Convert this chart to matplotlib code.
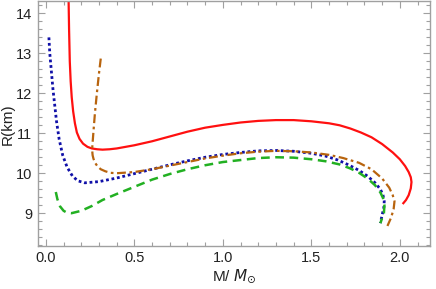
import matplotlib.pyplot as plt
from matplotlib.ticker import MultipleLocator

plt.rcParams['font.family'] = ['Liberation Sans', 'DejaVu Sans']

# mass-radius curves (M in solar masses, R in km)
red_m = [0.128, 0.131, 0.135, 0.140, 0.146, 0.154, 0.164, 0.175, 0.190, 0.21, 0.235,
         0.26, 0.29, 0.32, 0.36, 0.40, 0.45, 0.50, 0.60, 0.70, 0.80, 0.90, 1.00, 1.10,
         1.20, 1.30, 1.40, 1.50, 1.60, 1.66, 1.72, 1.78, 1.84, 1.90, 1.96, 2.00, 2.03,
         2.05, 2.062, 2.066, 2.062, 2.05, 2.035, 2.02]
red_r = [14.4, 13.6, 12.8, 12.3, 11.9, 11.55, 11.25, 11.02, 10.86, 10.74, 10.66,
         10.62, 10.60, 10.59, 10.60, 10.62, 10.66, 10.70, 10.80, 10.92, 11.04, 11.14,
         11.21, 11.27, 11.31, 11.33, 11.33, 11.30, 11.25, 11.20, 11.12, 11.02, 10.90,
         10.73, 10.52, 10.35, 10.18, 10.03, 9.90, 9.78, 9.62, 9.45, 9.33, 9.25]

blue_m = [0.017, 0.022, 0.030, 0.040, 0.050, 0.060, 0.075, 0.095, 0.12, 0.15, 0.18,
          0.22, 0.30, 0.40, 0.50, 0.60, 0.70, 0.80, 0.90, 1.00, 1.10, 1.20, 1.30, 1.40,
          1.50, 1.58, 1.65, 1.71, 1.77, 1.82, 1.86, 1.89, 1.905, 1.912, 1.91, 1.90,
          1.89]
blue_r = [13.4, 13.0, 12.6, 12.1, 11.7, 11.3, 10.85, 10.45, 10.15, 9.93, 9.81, 9.76,
          9.79, 9.88, 9.99, 10.10, 10.21, 10.31, 10.40, 10.47, 10.52, 10.56, 10.57,
          10.55, 10.50, 10.43, 10.33, 10.21, 10.07, 9.92, 9.76, 9.60, 9.45, 9.30,
          9.15, 8.95, 8.75]

brown_m = [0.31, 0.300, 0.288, 0.277, 0.268, 0.262, 0.262, 0.264, 0.269, 0.278, 0.292,
           0.31, 0.335, 0.365, 0.40, 0.50, 0.60, 0.70, 0.80, 0.90, 1.00, 1.10, 1.20,
           1.30, 1.40, 1.50, 1.60, 1.68, 1.77, 1.84, 1.90, 1.94, 1.96, 1.97, 1.965,
           1.95, 1.93]
brown_r = [12.87, 12.5, 12.0, 11.5, 11.0, 10.65, 10.55, 10.45, 10.36, 10.26, 10.17,
           10.10, 10.05, 10.01, 10.0, 10.03, 10.10, 10.19, 10.28, 10.37, 10.44, 10.50,
           10.54, 10.56, 10.55, 10.52, 10.46, 10.38, 10.26, 10.10, 9.87, 9.64, 9.45,
           9.30, 9.10, 8.88, 8.68]

green_m = [0.056, 0.065, 0.080, 0.100, 0.120, 0.145, 0.20, 0.26, 0.32, 0.40, 0.50,
           0.60, 0.70, 0.80, 0.90, 1.00, 1.10, 1.20, 1.30, 1.40, 1.50, 1.58, 1.66,
           1.72, 1.77, 1.82, 1.86, 1.89, 1.905, 1.913, 1.91, 1.89]
green_r = [9.53, 9.35, 9.17, 9.06, 9.01, 9.0, 9.06, 9.18, 9.33, 9.48, 9.66, 9.84,
           9.98, 10.10, 10.20, 10.28, 10.33, 10.38, 10.40, 10.39, 10.35, 10.30, 10.22,
           10.12, 10.01, 9.86, 9.70, 9.52, 9.38, 9.20, 9.00, 8.75]

fig = plt.figure(figsize=(4.36, 2.89), dpi=100)
ax = fig.add_axes([0.087, 0.149, 0.899, 0.846])

ax.plot(red_m, red_r, color='#ff1010', lw=1.6, solid_joinstyle='round')
ax.plot(blue_m, blue_r, color='#1010a8', lw=2.0, linestyle=(0, (1.0, 1.0)))
ax.plot(brown_m, brown_r, color='#b8640e', lw=1.6, linestyle=(0, (4.0, 1.6, 1.2, 1.6)))
ax.plot(green_m, green_r, color='#22b022', lw=1.8, linestyle=(0, (3.5, 2.2)))

ax.set_xlim(-0.045, 2.17)
ax.set_ylim(8.18, 14.3)

ax.xaxis.set_major_locator(MultipleLocator(0.5))
ax.xaxis.set_minor_locator(MultipleLocator(0.1))
ax.yaxis.set_major_locator(MultipleLocator(1))
ax.yaxis.set_minor_locator(MultipleLocator(0.2))
ax.xaxis.set_major_formatter(plt.FuncFormatter(lambda v, p: f'{v:.1f}'))

for s in ax.spines.values():
    s.set_color('#a0a0a0')
    s.set_linewidth(1.0)
ax.tick_params(which='both', direction='in', top=True, right=True, color='#a0a0a0',
               labelsize=10.5, labelcolor='#222222', width=0.8)
ax.tick_params(which='major', length=5, pad=4)
ax.tick_params(which='minor', length=3)
ax.tick_params(axis='x', labeltop=False)
ax.tick_params(axis='y', labelright=False)

ax.set_xlabel(r'M/ $M_{\odot}$', fontsize=11, labelpad=1, color='#222222')
ax.set_ylabel('R(km)', fontsize=11, labelpad=1, color='#222222')

fig.savefig('out.png', dpi=100)
